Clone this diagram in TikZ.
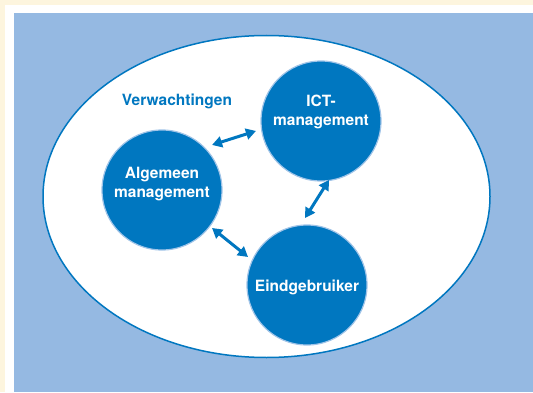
\documentclass[tikz,border=0pt]{standalone}
\usepackage{fontspec}
\setmainfont{TeX Gyre Heros}
\usetikzlibrary{arrows.meta,calc,shapes.geometric}
\definecolor{cream}{RGB}{253,245,222}
\definecolor{skyfill}{RGB}{149,185,226}
\definecolor{deepblue}{RGB}{0,119,192}
\definecolor{rimblue}{RGB}{160,196,232}
\tikzset{
  bubble/.style={circle, fill=deepblue, draw=rimblue, line width=1.2pt,
    minimum size=120pt, inner sep=0pt},
  bubbletext/.style={text=white, font=\bfseries\fontsize{15.5}{19}\selectfont,
    align=center, inner sep=0pt},
  link/.style={draw=deepblue, line width=3pt,
    {Triangle[length=10pt,width=11pt]}-{Triangle[length=10pt,width=11pt]}}
}
\begin{document}
\begin{tikzpicture}[x=1pt,y=1pt]
  \useasboundingbox (0,0) rectangle (533,392);
  % frame and background
  \fill[cream] (0,0) rectangle (533,392);
  \fill[white] (5,0) rectangle (533,387);
  \fill[skyfill] (13.5,0) rectangle (533,378.5);
  % field of expectations
  \node[ellipse, draw=deepblue, fill=white, line width=1.5pt,
    minimum width=447pt, minimum height=322pt, inner sep=0pt] (field) at (266.5,195.5) {};
  \node[anchor=base, text=deepblue, font=\bfseries\fontsize{15.5}{19}\selectfont,
    inner sep=0pt] (verw) at (177,287) {Verwachtingen};
  % actors
  \node[bubble] (ict) at (321,271) {};
  \node[bubble] (alg) at (162,202) {};
  \node[bubble] (eind) at (307,107) {};
  \node[bubbletext] (ictlabel) at (321,280) {ICT-\\management};
  \node[bubbletext] (alglabel) at (162,208) {Algemeen\\management};
  \node[bubbletext, anchor=base] (eindlabel) at (307,101) {Eindgebruiker};
  % arrow ends
  \coordinate (a1) at ($(alg)+(42:67.3pt)$);
  \coordinate (i1) at ($(ict)+(188.7:65.8pt)$);
  \coordinate (a2) at ($(alg)+(-37.2:62.8pt)$);
  \coordinate (e2) at ($(eind)+(154.6:65.3pt)$);
  \coordinate (i3) at ($(ict)+(-82.3:59.5pt)$);
  \coordinate (e3) at ($(eind)+(91.7:67pt)$);
  \draw[link] (a1) -- (i1);
  \draw[link] (a2) -- (e2);
  \draw[link] (i3) -- (e3);
\end{tikzpicture}
\end{document}
